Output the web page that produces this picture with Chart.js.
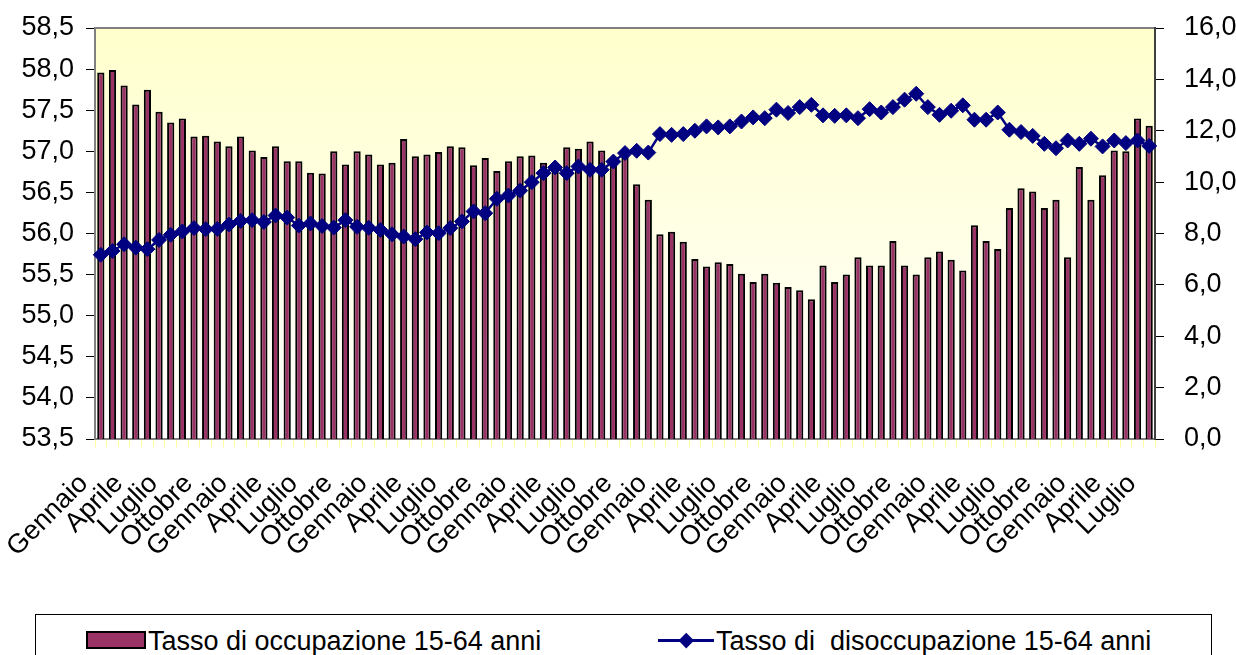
<!DOCTYPE html>
<html>
<head>
<meta charset="utf-8">
<script src="https://cdn.jsdelivr.net/npm/chart.js@4.4.1/dist/chart.umd.min.js"></script>
<style>
  html, body { margin: 0; padding: 0; background: #ffffff; }
  #wrap { position: relative; width: 1236px; height: 655px; overflow: hidden; font-family: "Liberation Sans", Arial, sans-serif; }
  #c { position: absolute; left: 0; top: 0; }
  #legend { position: absolute; left: 35px; top: 614px; width: 1177px; height: 60px; border: 1px solid #000; box-sizing: border-box; background: #fff; }
  .item { position: absolute; top: 11px; font-size: 27px; line-height: 30px; color: #000; white-space: pre; }
  .swatch { position: absolute; }
</style>
</head>
<body>
<div id="wrap">
  <canvas id="c" width="1236" height="655"></canvas>
  <div id="legend">
    <div class="swatch" style="left:50px; top:16px; width:60px; height:18px; background:#993366; border:2px solid #000; box-sizing:border-box;"></div>
    <div class="item" id="lab1" style="left:112px;"></div>
    <div class="swatch" style="left:622px; top:24px; width:56px; height:2.5px; background:#000080;"></div>
    <div class="swatch" style="left:645px; top:20px; width:10.5px; height:10.5px; background:#000080; transform:rotate(45deg);"></div>
    <div class="item" id="lab2" style="left:680px;"></div>
  </div>
</div>
<script>
// ---- data ----
const monthNames = ["Gennaio","Febbraio","Marzo","Aprile","Maggio","Giugno","Luglio","Agosto","Settembre","Ottobre","Novembre","Dicembre"];
const nMonths = 91;
const seriesNames = ["Tasso di occupazione 15-64 anni", "Tasso di  disoccupazione 15-64 anni"];

const occupazione = [
  57.96, 57.99, 57.80, 57.57, 57.75, 57.48, 57.35, 57.40, 57.18, 57.19, 57.12, 57.06,
  57.18, 57.01, 56.93, 57.06, 56.88, 56.88, 56.74, 56.73, 57.00, 56.84, 57.00, 56.96,
  56.84, 56.86, 57.15, 56.94, 56.96, 56.99, 57.06, 57.05, 56.83, 56.92, 56.76, 56.88,
  56.94, 56.95, 56.86, 56.85, 57.05, 57.03, 57.12, 57.01, 56.90, 56.93, 56.60, 56.41,
  55.99, 56.02, 55.90, 55.69, 55.60, 55.65, 55.63, 55.51, 55.41, 55.51, 55.40, 55.35,
  55.31, 55.20, 55.61, 55.41, 55.50, 55.71, 55.61, 55.61, 55.91, 55.61, 55.50, 55.71,
  55.78, 55.68, 55.55, 56.10, 55.91, 55.81, 56.31, 56.55, 56.51, 56.31, 56.41, 55.71,
  56.81, 56.41, 56.71, 57.01, 57.00, 57.40, 57.31
];

const disoccupazione = [
  7.17, 7.32, 7.58, 7.45, 7.39, 7.75, 7.95, 8.08, 8.21, 8.17, 8.18, 8.35,
  8.49, 8.52, 8.45, 8.70, 8.62, 8.31, 8.39, 8.29, 8.23, 8.52, 8.26, 8.22,
  8.14, 7.97, 7.88, 7.78, 8.04, 8.01, 8.21, 8.47, 8.86, 8.79, 9.35, 9.48,
  9.67, 10.00, 10.35, 10.57, 10.35, 10.61, 10.48, 10.48, 10.80, 11.13, 11.22, 11.15,
  11.87, 11.84, 11.87, 12.00, 12.17, 12.13, 12.17, 12.36, 12.52, 12.49, 12.82, 12.69,
  12.92, 13.01, 12.60, 12.58, 12.60, 12.49, 12.84, 12.71, 12.92, 13.21, 13.44, 12.92,
  12.62, 12.78, 12.99, 12.43, 12.43, 12.71, 12.04, 11.95, 11.80, 11.49, 11.32, 11.62,
  11.49, 11.69, 11.39, 11.62, 11.52, 11.62, 11.41
];

const leftTicks = { min: 53.5, max: 58.5, step: 0.5 };
const rightTicks = { min: 0, max: 16, step: 2 };
const labelEvery = 3;

// ---- build ----
const categories = [];
for (let i = 0; i < nMonths; i++) categories.push(monthNames[i % 12]);

document.getElementById('lab1').textContent = seriesNames[0];
document.getElementById('lab2').textContent = seriesNames[1];

const FONT = '"Liberation Sans", Arial, sans-serif';
const fmt = v => Number(v).toFixed(1).replace('.', ',');

const bgPlugin = {
  id: 'bg',
  beforeDraw(chart) {
    const { ctx, chartArea: a } = chart;
    const g = ctx.createLinearGradient(0, a.top, 0, a.bottom);
    g.addColorStop(0, '#FFFFCC');
    g.addColorStop(1, '#FFFFFF');
    ctx.save();
    ctx.fillStyle = g;
    ctx.fillRect(a.left, a.top, a.right - a.left, a.bottom - a.top);
    ctx.strokeStyle = '#808080';
    ctx.lineWidth = 2;
    ctx.strokeRect(a.left, a.top, a.right - a.left, a.bottom - a.top);
    ctx.restore();
  }
};

new Chart(document.getElementById('c'), {
  data: {
    labels: categories,
    datasets: [
      {
        type: 'line',
        label: seriesNames[1],
        data: disoccupazione,
        yAxisID: 'y2',
        order: 0,
        borderColor: '#000080',
        borderWidth: 2.5,
        pointStyle: 'rectRot',
        pointRadius: 7.5,
        pointBackgroundColor: '#000080',
        pointBorderColor: '#000080',
        pointBorderWidth: 1,
        tension: 0
      },
      {
        type: 'bar',
        label: seriesNames[0],
        data: occupazione,
        yAxisID: 'y',
        order: 1,
        backgroundColor: '#993366',
        borderColor: '#000000',
        borderWidth: 2,
        categoryPercentage: 1,
        barPercentage: 0.62
      }
    ]
  },
  options: {
    responsive: false,
    animation: false,
    devicePixelRatio: 1,
    layout: { padding: { top: 28, left: 0, right: 0, bottom: 0 } },
    plugins: { legend: { display: false }, tooltip: { enabled: false } },
    scales: {
      x: {
        type: 'category',
        offset: true,
        grid: { display: true, drawOnChartArea: false, color: '#FFFF99', tickLength: 8, offset: true },
        border: { display: true, color: '#808080', width: 2 },
        ticks: {
          autoSkip: false,
          minRotation: 45,
          maxRotation: 45,
          padding: 21,
          labelOffset: -17,
          color: '#000',
          font: { family: FONT, size: 27 },
          callback: function (v, i) { return i % labelEvery === 0 ? this.getLabelForValue(v) : ''; }
        },
        afterFit(s) { s.height = 216; }
      },
      y: {
        type: 'linear',
        position: 'left',
        min: leftTicks.min,
        max: leftTicks.max,
        beginAtZero: false,
        grid: { display: true, drawOnChartArea: false, color: '#000', tickLength: 9 },
        border: { display: true, color: '#808080', width: 2 },
        ticks: { stepSize: leftTicks.step, padding: 12, color: '#000', font: { family: FONT, size: 27 }, callback: v => fmt(v) },
        afterFit(s) { s.width = 95; s.paddingTop = 0; s.paddingBottom = 0; }
      },
      y2: {
        type: 'linear',
        position: 'right',
        min: rightTicks.min,
        max: rightTicks.max,
        grid: { display: true, drawOnChartArea: false, color: '#000', tickLength: 9 },
        border: { display: true, color: '#404040', width: 2 },
        ticks: { stepSize: rightTicks.step, padding: 20, color: '#000', font: { family: FONT, size: 27 }, callback: v => fmt(v) },
        afterFit(s) { s.width = 81; s.paddingTop = 0; s.paddingBottom = 0; }
      }
    }
  },
  plugins: [bgPlugin]
});
</script>
</body>
</html>
